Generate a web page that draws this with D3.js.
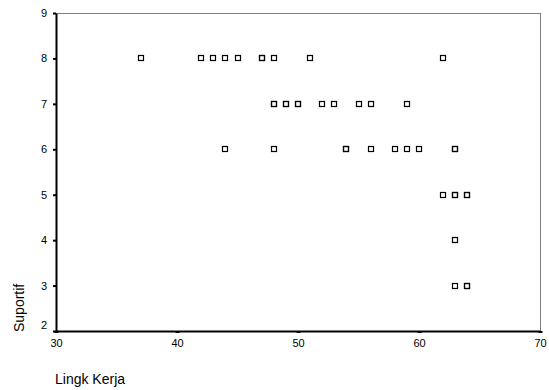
<!DOCTYPE html>
<html>
<head>
<meta charset="utf-8">
<script src="https://cdn.jsdelivr.net/npm/d3@7"></script>
<style>
  body { margin: 0; background: #fff; }
  text { font-family: Arial, "Liberation Sans", sans-serif; }
</style>
</head>
<body>
<svg id="chart" width="549" height="390"></svg>
<script>
// Lingk Kerja (x) vs Suportif (y); repeated pairs are overplotted points
var lingkKerja = [37, 42, 43, 44, 45, 47, 47, 48, 51, 62,
                  48, 48, 49, 49, 50, 50, 52, 53, 55, 56, 59,
                  44, 48, 54, 54, 56, 58, 59, 60, 63, 63,
                  62, 63, 63, 64, 64,
                  63,
                  63, 64, 64];
var suportif = [8, 8, 8, 8, 8, 8, 8, 8, 8, 8,
                7, 7, 7, 7, 7, 7, 7, 7, 7, 7, 7,
                6, 6, 6, 6, 6, 6, 6, 6, 6, 6,
                5, 5, 5, 5, 5,
                4,
                3, 3, 3];
var xTicks = [30, 40, 50, 60, 70];
var yTicks = [2, 3, 4, 5, 6, 7, 8, 9];

var svg = d3.select("#chart");
var plotL = 56, plotR = 540, plotT = 13, plotB = 331;

var x = d3.scaleLinear().domain([30, 70]).range([plotL, plotR]);
var y = d3.scaleLinear().domain([2, 9]).range([plotB, plotT]);

// frame: top and right in grey
svg.append("line")
    .attr("x1", plotL).attr("x2", plotR).attr("y1", plotT + 0.5).attr("y2", plotT + 0.5)
    .attr("stroke", "#7f7f7f").attr("stroke-width", 1);
svg.append("line")
    .attr("x1", plotR + 0.5).attr("x2", plotR + 0.5).attr("y1", plotT).attr("y2", plotB)
    .attr("stroke", "#7f7f7f").attr("stroke-width", 1);

var xAxis = svg.append("g")
    .attr("transform", `translate(0, ${plotB})`)
    .call(d3.axisBottom(x).tickValues(xTicks).tickFormat(d3.format("d"))
        .tickSize(2).tickPadding(6).tickSizeOuter(0));
xAxis.select(".domain").attr("stroke", "#000").attr("stroke-width", 2);
xAxis.selectAll(".tick line").attr("stroke", "#000").attr("stroke-width", 4);
xAxis.selectAll("text").attr("font-size", 11).attr("fill", "#000")
    .attr("font-family", "Arial, 'Liberation Sans', sans-serif");

var yAxis = svg.append("g")
    .attr("transform", `translate(${plotL}, 0)`)
    .call(d3.axisLeft(y).tickValues(yTicks).tickFormat(d3.format("d"))
        .tickSize(3).tickPadding(6).tickSizeOuter(0));
yAxis.select(".domain").attr("stroke", "#000").attr("stroke-width", 2);
yAxis.selectAll(".tick line").attr("stroke", "#000").attr("stroke-width", 2);
yAxis.selectAll("text").attr("font-size", 11).attr("fill", "#000")
    .attr("font-family", "Arial, 'Liberation Sans', sans-serif");
// the lowest label sits a little higher to clear the "30"
yAxis.selectAll(".tick").filter(d => d === 2).select("text").attr("dy", "-0.22em");

// points
var pts = lingkKerja.map((v, i) => [v, suportif[i]]);
svg.append("g").selectAll("rect")
    .data(pts)
    .join("rect")
    .attr("x", d => Math.round(x(d[0])) - 2.5)
    .attr("y", d => Math.round(y(d[1])) - 2.5)
    .attr("width", 5)
    .attr("height", 5)
    .attr("fill", "none")
    .attr("stroke", "#000")
    .attr("stroke-width", 1.2);

// axis titles
svg.append("text")
    .attr("x", 55).attr("y", 384)
    .attr("font-size", 14)
    .text("Lingk Kerja");

svg.append("text")
    .attr("transform", "translate(24, 332) rotate(-90)")
    .attr("font-size", 14)
    .text("Suportif");
</script>
</body>
</html>
